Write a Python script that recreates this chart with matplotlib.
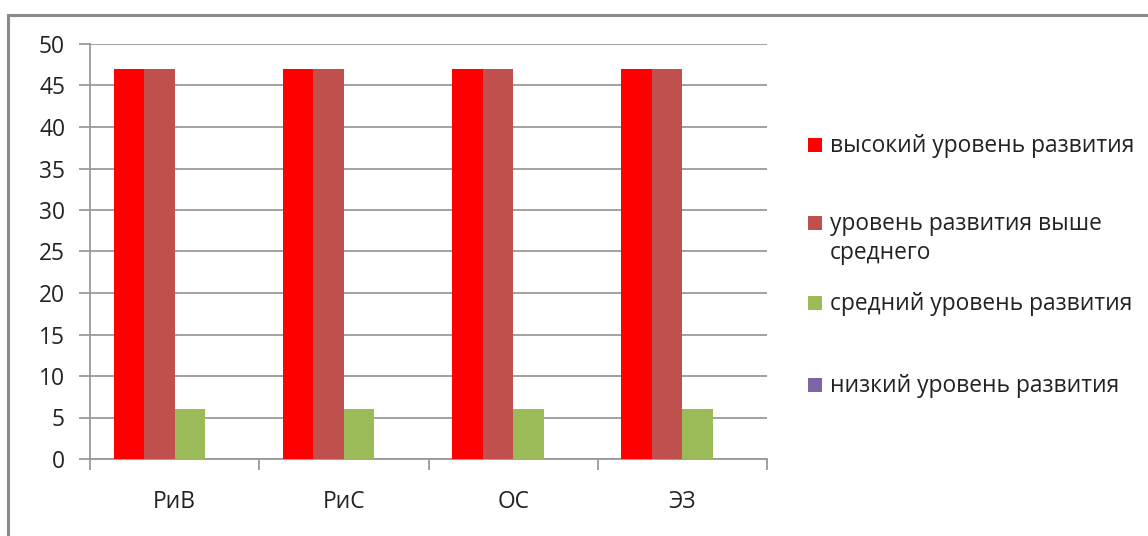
import matplotlib
matplotlib.use("Agg")
import matplotlib.pyplot as plt
from matplotlib.patches import Rectangle
from matplotlib.lines import Line2D
import numpy as np

plt.rcParams['font.family'] = ['Open Sans', 'DejaVu Sans']

categories = ["РиВ", "РиС", "ОС", "ЭЗ"]
series_names = ["высокий уровень развития",
                "уровень развития выше\nсреднего",
                "средний уровень развития",
                "низкий уровень развития"]
high = [47, 47, 47, 47]
above_avg = [47, 47, 47, 47]
average = [6, 6, 6, 6]
low = [0, 0, 0, 0]
yticks = [0, 5, 10, 15, 20, 25, 30, 35, 40, 45, 50]

colors = ["#FF0000", "#C0504D", "#9BBB59", "#8064A2"]
series = [high, above_avg, average, low]

W, H = 1148, 536
FS = 16.4
fig = plt.figure(figsize=(W / 100, H / 100), dpi=100)
ax = fig.add_axes([90 / W, 1 - 459 / H, (767 - 90) / W, (459 - 44) / H])

x = np.arange(len(categories))
bw = 0.18
for i, (vals, c) in enumerate(zip(series, colors)):
    ax.bar(x + (i - 1.5) * bw, vals, width=bw, color=c, zorder=3, linewidth=0)

ax.set_xlim(-0.5, len(categories) - 0.5)
ax.set_ylim(0, 50)
ax.set_yticks(yticks)
ax.set_yticklabels([str(v) for v in yticks], fontsize=FS, color="#222222")
ax.yaxis.grid(True, color="#9a9a9a", linewidth=1.3, zorder=0)
ax.set_xticks(np.arange(len(categories) + 1) - 0.5)
ax.set_xticklabels([])
ax.set_xticks(x, minor=True)
ax.set_xticklabels(categories, minor=True, fontsize=FS, color="#222222")
ax.tick_params(axis="x", which="minor", length=0, pad=22)
ax.tick_params(axis="x", which="major", length=8, width=1.3, color="#9a9a9a")
ax.tick_params(axis="y", length=8, width=1.3, color="#9a9a9a", pad=10)
for s in ["top", "right"]:
    ax.spines[s].set_visible(False)
for s in ["left", "bottom"]:
    ax.spines[s].set_color("#9a9a9a")
    ax.spines[s].set_linewidth(1.3)

# outer frame
fig.add_artist(Line2D([8 / W, 8 / W], [0, 1 - 15 / H], color="#8a8a8a", linewidth=2.2))
fig.add_artist(Line2D([8 / W, 1], [1 - 15 / H, 1 - 15 / H], color="#8a8a8a", linewidth=2.2))

# legend
ys = [145, 223, 303, 385]
for name, c, y in zip(series_names, colors, ys):
    fig.add_artist(Rectangle((808 / W, 1 - (y + 7) / H), 14 / W, 14 / H,
                             facecolor=c, edgecolor="none", transform=fig.transFigure))
    fig.text(830 / W, 1 - (y - 11) / H, name, fontsize=FS, color="#222222",
             va="top", ha="left", linespacing=1.3)

fig.savefig("out.png", dpi=100)
